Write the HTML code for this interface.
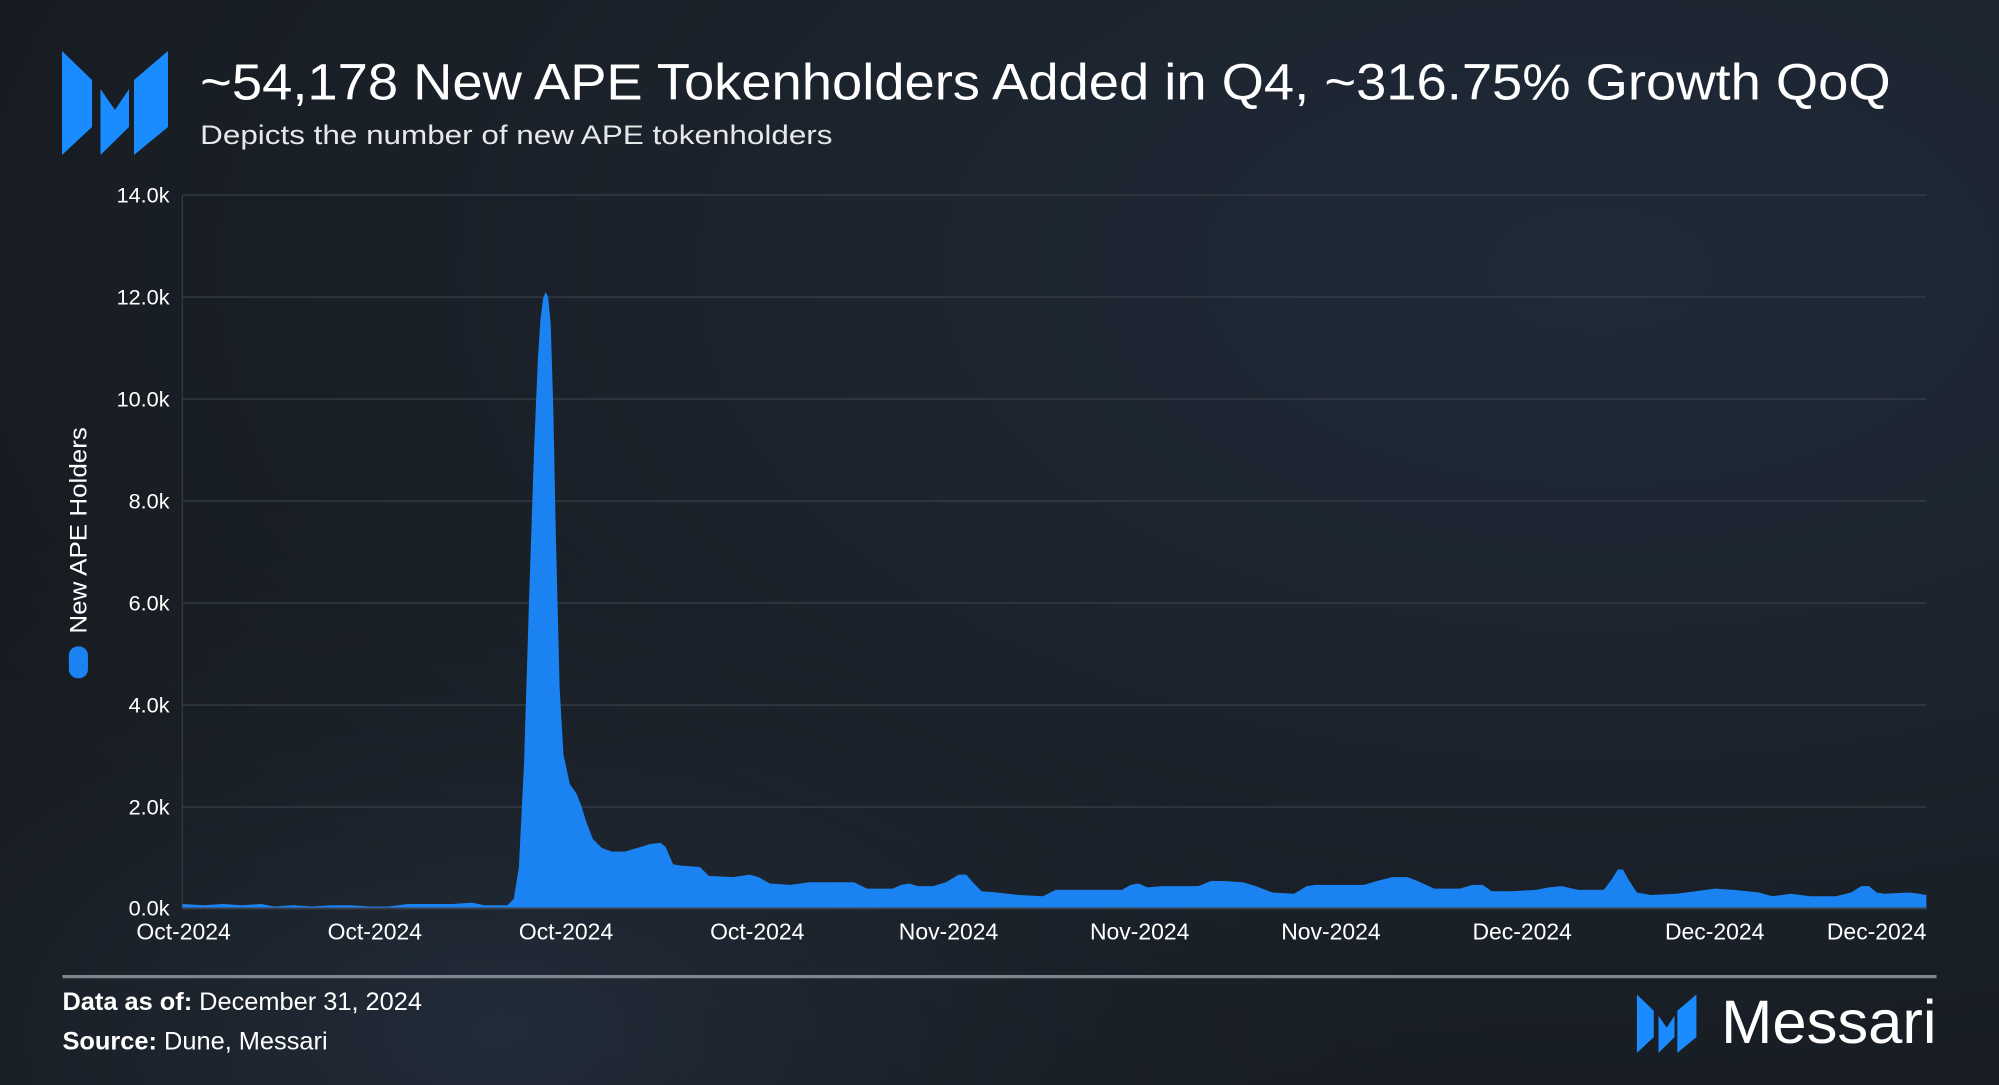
<!DOCTYPE html>
<html><head><meta charset="utf-8"><style>html,body{margin:0;padding:0;background:#181c21;}svg{display:block}</style></head>
<body>
<svg width="1999" height="1085" viewBox="0 0 1568 851" preserveAspectRatio="none" xmlns="http://www.w3.org/2000/svg" font-family="Liberation Sans, sans-serif">
<defs>
<radialGradient id="bg" cx="0.8" cy="0.25" r="0.9">
<stop offset="0" stop-color="#1f2a38"/><stop offset="1" stop-color="#171b20"/>
</radialGradient>
<radialGradient id="bg2" cx="0.25" cy="0.95" r="0.5">
<stop offset="0" stop-color="#243040" stop-opacity="0.8"/><stop offset="1" stop-color="#1a1f26" stop-opacity="0"/>
</radialGradient>
</defs>
<rect width="1568" height="851" fill="url(#bg)"/>
<rect width="1568" height="851" fill="url(#bg2)"/>
<g fill="#1a8cff" transform="scale(0.7843)">
<polygon points="62,51 92,80 92,127 62,155"/>
<polygon points="100.5,89 115,110 129,89 129,127 100.5,155"/>
<polygon points="134,80 168,51 168,127 134,155"/>
</g>
<text x="157" y="78" font-size="40" fill="#ffffff" textLength="1326" lengthAdjust="spacingAndGlyphs">~54,178 New APE Tokenholders Added in Q4, ~316.75% Growth QoQ</text>
<text x="157" y="113" font-size="21" fill="#e6e8ea" textLength="496" lengthAdjust="spacingAndGlyphs">Depicts the number of new APE tokenholders</text>
<g stroke="#353c45" stroke-width="1">
<line x1="143" y1="153" x2="1511" y2="153"/>
<line x1="143" y1="233" x2="1511" y2="233"/>
<line x1="143" y1="313" x2="1511" y2="313"/>
<line x1="143" y1="393" x2="1511" y2="393"/>
<line x1="143" y1="473" x2="1511" y2="473"/>
<line x1="143" y1="553" x2="1511" y2="553"/>
<line x1="143" y1="633" x2="1511" y2="633"/>
<line x1="143" y1="153" x2="143" y2="713"/>
</g>
<g font-size="17" fill="#ffffff" text-anchor="end">
<text x="133" y="159">14.0k</text><text x="133" y="239">12.0k</text><text x="133" y="319">10.0k</text>
<text x="133" y="399">8.0k</text><text x="133" y="479">6.0k</text><text x="133" y="559">4.0k</text>
<text x="133" y="639">2.0k</text><text x="133" y="718">0.0k</text>
</g>
<path fill="#1b82f2" d="M143,712 L143,709 L160,710 L175,709 L190,710 L205,709 L215,711 L230,710 L245,711 L260,710 L275,710 L290,711 L305,711 L320,709 L340,709 L355,709 L370,708 L380,710 L398,710 L403,705 L407,680 L411,600 L415,470 L419,350 L422,280 L424,250 L426,234 L428,229 L430,233 L432,255 L434,320 L436,420 L439,540 L442,592 L447,615 L452,622 L456,632 L460,645 L465,658 L472,665 L480,668 L490,668 L500,665 L510,662 L518,661 L522,664 L528,678 L535,679 L549,680 L556,687 L575,688 L588,686 L595,688 L604,693 L620,694 L635,692 L670,692 L680,697 L700,697 L707,694 L713,693 L720,695 L732,695 L742,692 L752,686 L758,686 L763,692 L770,699 L782,700 L800,702 L818,703 L828,698 L880,698 L887,694 L893,693 L900,696 L912,695 L940,695 L950,691 L960,691 L975,692 L985,695 L998,700 L1015,701 L1025,695 L1032,694 L1070,694 L1080,691 L1092,688 L1104,688 L1112,691 L1125,697 L1145,697 L1155,694 L1163,694 L1170,699 L1185,699 L1205,698 L1215,696 L1225,695 L1238,698 L1258,698 L1264,690 L1269,682 L1273,682 L1278,691 L1284,700 L1295,702 L1315,701 L1330,699 L1345,697 L1360,698 L1380,700 L1390,703 L1405,701 L1420,703 L1440,703 L1452,700 L1460,695 L1466,695 L1472,700 L1478,701 L1498,700 L1505,701 L1511,702 L1511,712 Z"/>
<line x1="143" y1="712.5" x2="1511" y2="712.5" stroke="#3a4049" stroke-width="1.5"/>
<g font-size="18" fill="#ffffff" text-anchor="middle">
<text x="144" y="737">Oct-2024</text><text x="294" y="737">Oct-2024</text><text x="444" y="737">Oct-2024</text>
<text x="594" y="737">Oct-2024</text><text x="744" y="737">Nov-2024</text><text x="894" y="737">Nov-2024</text>
<text x="1044" y="737">Nov-2024</text><text x="1194" y="737">Dec-2024</text><text x="1345" y="737">Dec-2024</text>
<text x="1511" y="737" text-anchor="end">Dec-2024</text>
</g>
<text transform="translate(68,416) rotate(-90)" font-size="19" fill="#ffffff" text-anchor="middle" textLength="162" lengthAdjust="spacingAndGlyphs">New APE Holders</text>
<rect x="54" y="507" width="15" height="25" rx="7" fill="#1b82f2"/>
<line x1="49" y1="766" x2="1519" y2="766" stroke="#80868d" stroke-width="2.5"/>
<text x="49" y="792" font-size="19.5" fill="#ffffff" textLength="282" lengthAdjust="spacingAndGlyphs"><tspan font-weight="bold">Data as of:</tspan> December 31, 2024</text>
<text x="49" y="823" font-size="19.5" fill="#ffffff" textLength="208" lengthAdjust="spacingAndGlyphs"><tspan font-weight="bold">Source:</tspan> Dune, Messari</text>
<g fill="#1a8cff" transform="translate(1284,780) scale(0.44) translate(-62,-51)">
<polygon points="62,51 92,80 92,127 62,155"/>
<polygon points="100.5,89 115,110 129,89 129,127 100.5,155"/>
<polygon points="134,80 168,51 168,127 134,155"/>
</g>
<text x="1350" y="818" font-size="48" fill="#ffffff" textLength="169" lengthAdjust="spacingAndGlyphs">Messari</text>
</svg>
</body></html>
